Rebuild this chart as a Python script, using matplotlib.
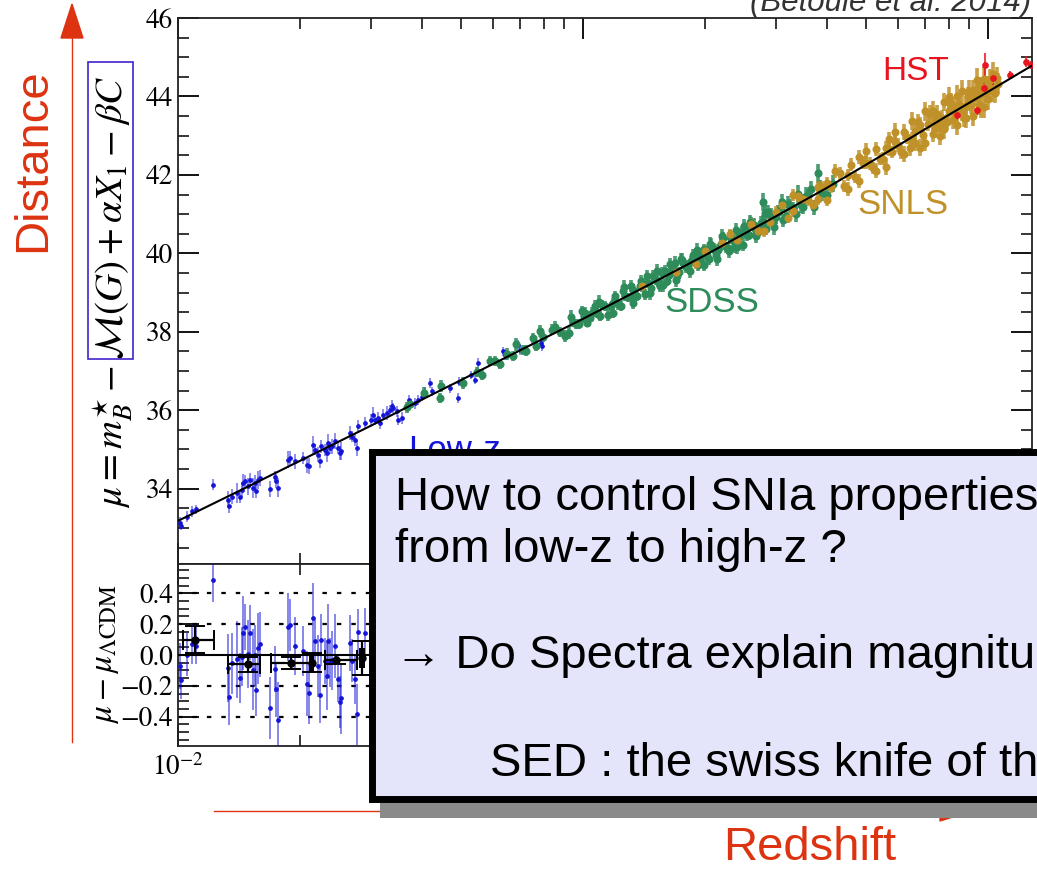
import numpy as np
import matplotlib
matplotlib.use("Agg")
import matplotlib.pyplot as plt
from matplotlib.patches import Rectangle, Polygon
from matplotlib.lines import Line2D
from matplotlib.ticker import MultipleLocator, FuncFormatter

plt.rcParams['font.family'] = 'STIXGeneral'
plt.rcParams['mathtext.fontset'] = 'stix'

W, H = 1037, 869

# Best-fit LambdaCDM distance modulus
model_z = [0.01, 0.015, 0.02, 0.03, 0.04, 0.05, 0.07, 0.1, 0.15, 0.2,
           0.3, 0.4, 0.5, 0.6, 0.7, 0.8, 1.0, 1.3]
model_mu = [33.18, 34.07, 34.71, 35.61, 36.27, 36.77, 37.53, 38.33, 39.27, 39.95,
            40.95, 41.67, 42.26, 42.75, 43.17, 43.53, 44.12, 44.82]

# Low-z sample
lowz_z = [0.0101, 0.0102, 0.0105, 0.0108, 0.0111, 0.0122, 0.0133, 0.0134, 0.0136, 0.0140,
          0.0142, 0.0144, 0.0145, 0.0146, 0.0149, 0.0151, 0.0153, 0.0155, 0.0156, 0.0158,
          0.0159, 0.0169, 0.0174, 0.0175, 0.0177, 0.0187, 0.0189, 0.0194, 0.0204, 0.0208,
          0.0210, 0.0216, 0.0218, 0.0222, 0.0224, 0.0226, 0.0231, 0.0233, 0.0235, 0.0237,
          0.0240, 0.0244, 0.0249, 0.0251, 0.0253, 0.0266, 0.0269, 0.0274, 0.0276, 0.0278,
          0.0289, 0.0300, 0.0303, 0.0307, 0.0312, 0.0315, 0.0321, 0.0328, 0.0334, 0.0337,
          0.0340, 0.0347, 0.0350, 0.0357, 0.0371, 0.0385, 0.0392, 0.0400, 0.0407, 0.0419,
          0.0423, 0.0469, 0.0490, 0.0493, 0.0530, 0.0541, 0.0552, 0.0636, 0.0642, 0.0691,
          0.0700, 0.0789, 0.0794]
lowz_mu = [33.13, 33.06, 33.29, 33.42, 33.47, 34.10, 33.72, 33.55, 33.80, 33.89,
           33.80, 33.97, 34.14, 34.19, 34.06, 34.23, 34.02, 34.14, 33.93, 34.23,
           34.27, 33.99, 34.31, 34.19, 34.02, 34.74, 34.78, 34.70, 34.78, 34.61,
           34.57, 35.12, 34.99, 34.87, 34.70, 35.08, 34.99, 34.91, 35.16, 35.04,
           35.08, 35.21, 35.04, 34.91, 34.95, 35.42, 35.33, 35.25, 35.04, 35.59,
           35.67, 35.76, 35.89, 35.76, 35.80, 35.67, 35.89, 35.93, 36.01, 36.10,
           36.06, 35.97, 35.76, 35.80, 36.27, 36.18, 36.27, 36.35, 36.44, 36.69,
           36.48, 36.56, 36.31, 36.73, 36.90, 36.78, 37.20, 37.50, 37.41, 37.67,
           37.54, 37.71, 37.63]
lowz_err = [0.15, 0.12, 0.14, 0.13, 0.12, 0.14, 0.22, 0.18, 0.20, 0.25,
            0.16, 0.19, 0.24, 0.15, 0.22, 0.18, 0.26, 0.20, 0.17, 0.23,
            0.21, 0.20, 0.15, 0.18, 0.24, 0.22, 0.17, 0.19, 0.16, 0.21,
            0.20, 0.23, 0.14, 0.20, 0.18, 0.17, 0.15, 0.22, 0.24, 0.16,
            0.19, 0.21, 0.15, 0.17, 0.23, 0.18, 0.14, 0.16, 0.20, 0.15,
            0.16, 0.14, 0.18, 0.13, 0.15, 0.16, 0.14, 0.17, 0.13, 0.15,
            0.12, 0.14, 0.13, 0.15, 0.12, 0.14, 0.13, 0.12, 0.14, 0.13,
            0.12, 0.11, 0.13, 0.12, 0.11, 0.12, 0.13, 0.11, 0.12, 0.11,
            0.12, 0.11, 0.12]

# SDSS sample
sdss_z = [0.0367, 0.0374, 0.0443, 0.0447, 0.0546, 0.0563, 0.0589, 0.0623, 0.0648, 0.0672,
          0.0711, 0.0725, 0.0753, 0.0782, 0.0797, 0.0836, 0.0877, 0.0901, 0.0936, 0.0944,
          0.098, 0.101, 0.104, 0.107, 0.110, 0.113, 0.117, 0.120, 0.124, 0.127,
          0.131, 0.134, 0.138, 0.142, 0.145, 0.149, 0.153, 0.157, 0.161, 0.165,
          0.169, 0.173, 0.177, 0.182, 0.187, 0.192, 0.197, 0.202, 0.207, 0.213,
          0.219, 0.225, 0.231, 0.237, 0.243, 0.250, 0.257, 0.264, 0.271, 0.279,
          0.287, 0.295, 0.303, 0.312, 0.321, 0.330, 0.340, 0.350, 0.360, 0.372,
          0.385, 0.400, 0.415, 0.096, 0.0995, 0.1025, 0.1055, 0.1085, 0.1115, 0.115,
          0.1185, 0.122, 0.1255, 0.129, 0.1325, 0.136, 0.140, 0.1435, 0.147, 0.151,
          0.155, 0.159, 0.163, 0.167, 0.171, 0.175, 0.1795, 0.1845, 0.1895, 0.1945,
          0.1995, 0.2045, 0.210, 0.216, 0.222, 0.228, 0.234, 0.240, 0.2465, 0.2535,
          0.2605, 0.2675, 0.275, 0.283, 0.291, 0.299, 0.3075, 0.3165, 0.325, 0.345,
          0.365, 0.39, 0.278, 0.38, 0.0405, 0.0505, 0.0605, 0.0685, 0.0765, 0.0855,
          0.0925, 0.1005, 0.1095, 0.1185, 0.126, 0.133, 0.139, 0.146, 0.152, 0.158,
          0.164, 0.170, 0.176, 0.1835, 0.191, 0.1985, 0.206, 0.214, 0.221, 0.229,
          0.238, 0.248, 0.258, 0.268, 0.282, 0.296, 0.31, 0.335, 0.355]
sdss_mu = [36.08, 36.17, 36.31, 36.61, 36.98, 36.91, 37.26, 37.17, 37.44, 37.39,
           37.54, 37.52, 37.83, 38.02, 37.87, 38.05, 37.99, 37.90, 38.38, 38.25,
           38.19, 38.47, 38.36, 38.65, 38.41, 38.65, 38.65, 38.90, 38.67, 38.92,
           39.17, 38.92, 39.18, 38.96, 39.24, 39.41, 39.26, 39.50, 39.30, 39.52,
           39.76, 39.52, 39.75, 39.69, 39.95, 39.70, 39.98, 39.95, 40.21, 39.97,
           40.23, 40.15, 40.42, 40.16, 40.43, 40.69, 40.48, 40.72, 40.55, 40.81,
           41.05, 40.80, 41.05, 40.84, 41.27, 41.15, 41.51, 41.18, 41.45, 41.18,
           41.67, 41.49, 41.78, 38.19, 38.52, 38.23, 38.49, 38.48, 38.68, 38.43,
           38.73, 38.70, 39.03, 38.88, 39.07, 38.92, 39.16, 39.41, 39.12, 39.33,
           39.17, 39.56, 39.45, 39.61, 39.43, 39.86, 39.64, 39.80, 39.95, 39.80,
           40.10, 39.86, 40.12, 40.08, 40.38, 40.14, 40.33, 40.15, 40.55, 40.48,
           40.75, 40.56, 40.78, 40.62, 40.99, 40.92, 41.19, 40.96, 41.21, 41.22,
           41.64, 41.55, 41.31, 42.04, 36.45, 36.69, 37.25, 37.68, 37.64, 38.13,
           37.98, 38.36, 38.77, 38.49, 39.14, 38.73, 39.29, 38.99, 39.56, 39.20,
           39.73, 39.32, 39.84, 39.55, 40.09, 39.71, 40.24, 39.86, 40.43, 40.05,
           40.60, 40.22, 40.79, 40.45, 41.04, 40.66, 41.30, 41.00, 41.47]
sdss_err = [0.14, 0.12, 0.13, 0.15, 0.12, 0.14, 0.13, 0.12, 0.15, 0.13,
            0.12, 0.14, 0.13, 0.16, 0.12, 0.14, 0.13, 0.15, 0.17, 0.12,
            0.13, 0.15, 0.12, 0.16, 0.14, 0.13, 0.12, 0.15, 0.14, 0.13,
            0.16, 0.13, 0.15, 0.14, 0.12, 0.16, 0.13, 0.15, 0.14, 0.13,
            0.17, 0.14, 0.15, 0.13, 0.16, 0.15, 0.14, 0.13, 0.17, 0.15,
            0.16, 0.14, 0.17, 0.15, 0.16, 0.18, 0.15, 0.17, 0.16, 0.18,
            0.18, 0.16, 0.19, 0.17, 0.18, 0.17, 0.24, 0.18, 0.20, 0.19,
            0.20, 0.19, 0.21, 0.13, 0.14, 0.12, 0.13, 0.14, 0.12, 0.15,
            0.13, 0.14, 0.15, 0.12, 0.14, 0.13, 0.15, 0.16, 0.13, 0.14,
            0.15, 0.14, 0.13, 0.15, 0.16, 0.14, 0.15, 0.13, 0.16, 0.14,
            0.15, 0.16, 0.14, 0.15, 0.17, 0.15, 0.16, 0.17, 0.15, 0.16,
            0.17, 0.16, 0.18, 0.16, 0.17, 0.18, 0.19, 0.17, 0.18, 0.19,
            0.20, 0.21, 0.22, 0.24, 0.14, 0.15, 0.13, 0.16, 0.14, 0.15,
            0.17, 0.14, 0.16, 0.15, 0.17, 0.16, 0.15, 0.17, 0.16, 0.18,
            0.15, 0.17, 0.16, 0.18, 0.17, 0.16, 0.18, 0.17, 0.19, 0.16,
            0.18, 0.17, 0.19, 0.18, 0.20, 0.19, 0.21, 0.20, 0.22]

# SNLS sample
snls_z = [0.14, 0.17, 0.19, 0.20, 0.22, 0.24, 0.26, 0.27, 0.29, 0.31,
          0.32, 0.33, 0.34, 0.35, 0.37, 0.38, 0.39, 0.41, 0.42, 0.43,
          0.44, 0.45, 0.46, 0.47, 0.48, 0.49, 0.51, 0.52, 0.53, 0.55,
          0.56, 0.57, 0.58, 0.59, 0.61, 0.62, 0.63, 0.64, 0.65, 0.66,
          0.67, 0.69, 0.70, 0.71, 0.72, 0.73, 0.74, 0.75, 0.76, 0.77,
          0.78, 0.79, 0.80, 0.81, 0.83, 0.84, 0.85, 0.86, 0.87, 0.88,
          0.89, 0.90, 0.91, 0.92, 0.93, 0.94, 0.95, 0.96, 0.97, 0.99,
          1.00, 1.01, 1.04, 1.06, 0.50, 0.54, 0.60, 0.68, 0.82, 0.98,
          1.02, 0.36, 0.40, 0.23, 0.28, 0.33, 0.40, 0.45, 0.50, 0.53,
          0.56, 0.59, 0.62, 0.65, 0.68, 0.70, 0.73, 0.76, 0.78, 0.80,
          0.82, 0.84, 0.86, 0.88, 0.90, 0.92, 0.94, 0.96, 0.98, 1.00,
          1.03, 1.05, 0.74, 0.66, 0.57, 0.48, 0.38, 0.30]
snls_mu = [39.16, 39.52, 39.73, 40.07, 40.26, 40.35, 40.74, 40.58, 40.81, 41.23,
           40.91, 41.07, 41.46, 41.38, 41.22, 41.69, 41.70, 41.68, 42.10, 42.04,
           41.72, 42.00, 42.26, 41.94, 41.85, 42.31, 42.29, 42.18, 42.66, 42.41,
           42.68, 42.66, 42.58, 42.85, 42.59, 43.09, 42.96, 42.68, 42.92, 43.13,
           43.35, 43.01, 42.82, 43.31, 43.55, 43.04, 43.37, 43.56, 43.29, 43.45,
           43.86, 43.35, 43.63, 43.84, 43.58, 44.02, 43.82, 43.58, 43.46, 43.79,
           44.00, 44.15, 43.78, 44.16, 43.99, 44.09, 43.78, 43.73, 44.21, 44.09,
           44.24, 44.41, 44.08, 44.33, 42.31, 42.41, 42.77, 43.27, 43.40, 44.44,
           44.13, 41.35, 41.79, 40.49, 40.57, 41.49, 41.37, 41.63, 42.61, 42.11,
           42.21, 43.10, 42.54, 43.37, 42.69, 43.62, 43.64, 42.99, 43.16, 43.98,
           43.75, 43.27, 44.13, 43.44, 43.90, 43.51, 44.42, 44.23, 43.74, 43.94,
           44.56, 44.46, 43.17, 42.81, 42.91, 42.45, 41.39, 41.05]
snls_err = [0.12, 0.13, 0.12, 0.14, 0.13, 0.14, 0.15, 0.13, 0.14, 0.15,
            0.14, 0.15, 0.16, 0.14, 0.15, 0.16, 0.15, 0.14, 0.17, 0.16,
            0.15, 0.16, 0.17, 0.15, 0.18, 0.16, 0.17, 0.16, 0.18, 0.17,
            0.18, 0.17, 0.16, 0.19, 0.18, 0.20, 0.17, 0.19, 0.18, 0.20,
            0.21, 0.19, 0.22, 0.20, 0.23, 0.21, 0.19, 0.22, 0.20, 0.21,
            0.24, 0.20, 0.22, 0.25, 0.21, 0.26, 0.22, 0.20, 0.24, 0.23,
            0.25, 0.27, 0.22, 0.26, 0.24, 0.23, 0.25, 0.27, 0.24, 0.26,
            0.28, 0.30, 0.25, 0.28, 0.17, 0.16, 0.18, 0.20, 0.22, 0.30,
            0.26, 0.15, 0.16, 0.14, 0.15, 0.16, 0.17, 0.18, 0.20, 0.19,
            0.21, 0.22, 0.20, 0.23, 0.22, 0.25, 0.24, 0.23, 0.25, 0.27,
            0.24, 0.26, 0.28, 0.25, 0.27, 0.26, 0.30, 0.27, 0.28, 0.29,
            0.31, 0.30, 0.22, 0.21, 0.19, 0.18, 0.16, 0.15]

# HST sample
hst_z = [0.84, 0.94, 0.98, 0.985, 1.03, 1.13, 1.24, 1.28]
hst_mu = [43.53, 43.66, 44.21, 44.80, 44.46, 44.55, 44.89, 44.80]
hst_err = [0.12, 0.13, 0.15, 0.30, 0.16, 0.10, 0.15, 0.10]

# Binned residuals
bin_z = [0.0110, 0.0149, 0.0190, 0.0214, 0.0245, 0.0285]
bin_res = [0.10, -0.06, -0.05, -0.05, -0.03, -0.02]
bin_zlo = [0.0103, 0.0133, 0.0170, 0.0212, 0.0231, 0.0282]
bin_zhi = [0.0123, 0.0159, 0.0214, 0.0216, 0.0277, 0.0288]
bin_err = [0.09, 0.05, 0.04, 0.06, 0.03, 0.11]

C_LOWZ = '#1414d8'
C_SDSS = '#2e8b5a'
C_SNLS = '#bf9128'
C_HST = '#e8141e'
C_RED = '#dd3311'


def fx(x):
    return x / W


def fy(y):
    return 1 - y / H


def mu_model(z):
    return np.interp(np.log10(z), np.log10(model_z), model_mu)


fig = plt.figure(figsize=(W / 100, H / 100), dpi=100)
ax = fig.add_axes([fx(178), fy(564), fx(1032) - fx(178), fy(18) - fy(564)])
axr = fig.add_axes([fx(178), fy(746), fx(1032) - fx(178), fy(564) - fy(746)], sharex=ax)

samples = [
    (lowz_z, lowz_mu, lowz_err, C_LOWZ, 2.4, 1.1, 0.6),
    (sdss_z, sdss_mu, sdss_err, C_SDSS, 4.8, 2.6, 0.85),
    (snls_z, snls_mu, snls_err, C_SNLS, 4.8, 2.6, 0.85),
    (hst_z, hst_mu, hst_err, C_HST, 3.8, 1.5, 0.8),
]

for z, mu, err, col, ms, elw, ea in samples:
    z = np.asarray(z)
    mu = np.asarray(mu)
    err = np.asarray(err)
    eb = ax.errorbar(z, mu, yerr=err, fmt='o', ms=ms, color=col, mec=col,
                     elinewidth=elw, capsize=0, zorder=3)
    eb[2][0].set_alpha(ea)
    res = mu - mu_model(z)
    ebr = axr.errorbar(z, res, yerr=err, fmt='o', ms=ms, color=col, mec=col,
                       elinewidth=1.2 if col == C_LOWZ else elw, capsize=0, zorder=3)
    ebr[2][0].set_alpha(0.6)

ax.plot(model_z, model_mu, color='black', lw=1.5, zorder=4)

bz = np.asarray(bin_z)
xerr = [bz - np.asarray(bin_zlo), np.asarray(bin_zhi) - bz]
axr.errorbar(bz, bin_res, xerr=xerr, yerr=bin_err, fmt='o', ms=5, color='black',
             elinewidth=1.6, capsize=7, capthick=1.4, zorder=5)

axr.axhline(0, color='black', lw=1.5, zorder=4)
for yv in (-0.4, -0.2, 0.2, 0.4):
    axr.axhline(yv, color='black', lw=1.6, linestyle=(0, (2, 4.5)), zorder=1)

ax.set_xscale('log')
ax.set_xlim(0.01, 1.284)
ax.set_ylim(32.08, 46.0)
axr.set_ylim(-0.59, 0.59)

ax.yaxis.set_major_locator(MultipleLocator(2))
ax.yaxis.set_minor_locator(MultipleLocator(0.5))
axr.yaxis.set_major_locator(MultipleLocator(0.2))
axr.yaxis.set_minor_locator(MultipleLocator(0.05))
# only the first decade label is left uncovered by the note box
axr.xaxis.set_major_formatter(FuncFormatter(
    lambda v, p: r'$10^{-2}$' if abs(v - 0.01) < 1e-6 else ''))

for a in (ax, axr):
    a.tick_params(which='both', direction='in', top=True, right=True,
                  labelsize=19.5, colors='black')
    a.tick_params(which='major', length=15, width=1.3)
    a.tick_params(which='minor', length=8, width=1.1)
    for s in a.spines.values():
        s.set_linewidth(1.3)
        s.set_color('#222222')
ax.tick_params(labelbottom=False)
axr.tick_params(axis='x', pad=6)

# axis labels
fig.text(fx(113), fy(292),
         r'$\mu = m_B^{\star} - \mathcal{M}(G) + \alpha X_1 - \beta C$',
         rotation=90, ha='center', va='center', fontsize=28)
fig.add_artist(Rectangle((fx(88), fy(359)), fx(133) - fx(88), fy(62) - fy(359),
                         transform=fig.transFigure, fill=False,
                         edgecolor='#4422cc', lw=1.2, zorder=6))
fig.text(fx(106), fy(654), r'$\mu - \mu_{\Lambda\mathrm{CDM}}$',
         rotation=90, ha='center', va='center', fontsize=24)

# sample names
sans = ['Liberation Sans', 'DejaVu Sans']
fig.text(fx(882), fy(80), 'HST', color=C_HST, fontsize=24, family=sans,
         va='baseline', zorder=2)
fig.text(fx(857), fy(214), 'SNLS', color=C_SNLS, fontsize=25, family=sans,
         va='baseline', zorder=2)
fig.text(fx(664), fy(312), 'SDSS', color=C_SDSS, fontsize=25, family=sans,
         va='baseline', zorder=2)
fig.text(fx(408), fy(460), 'Low-z', color=C_LOWZ, fontsize=25, family=sans,
         va='baseline', zorder=2)

fig.text(fx(1031), fy(11), '(Betoule et al. 2014)', color='#333333', fontsize=22.5,
         family=sans, style='italic', ha='right', va='baseline', zorder=2)

# red axis arrows
fig.add_artist(Line2D([fx(72), fx(72)], [fy(742), fy(34)], transform=fig.transFigure,
                      color=C_RED, lw=1.0, zorder=2))
fig.add_artist(Polygon([[fx(72), fy(4)], [fx(61), fy(38)], [fx(83), fy(38)]],
                       closed=True, transform=fig.transFigure, color=C_RED, zorder=2))
fig.add_artist(Line2D([fx(214), fx(945)], [fy(811), fy(811)], transform=fig.transFigure,
                      color=C_RED, lw=1.0, zorder=2))
fig.add_artist(Polygon([[fx(940), fy(801)], [fx(940), fy(821)], [fx(972), fy(811)]],
                       closed=True, transform=fig.transFigure, color=C_RED, zorder=2))
fig.text(fx(33), fy(160), 'Distance', color=C_RED, fontsize=34, family=sans,
         rotation=90, ha='center', va='center', zorder=2)
fig.text(fx(810), fy(860), 'Redshift', color=C_RED, fontsize=34, family=sans,
         ha='center', va='baseline', zorder=2)

# overlay note box with shadow
fig.add_artist(Rectangle((fx(380), fy(818)), fx(1080) - fx(380), fy(460) - fy(818),
                         transform=fig.transFigure, facecolor='#8a8a8a',
                         edgecolor='none', zorder=7))
fig.add_artist(Rectangle((fx(371.5), fy(798.5)), fx(1080) - fx(371.5),
                         fy(451.5) - fy(798.5), transform=fig.transFigure,
                         facecolor='#e4e4fa', edgecolor='black', lw=5, zorder=8))
note_kw = dict(color='black', fontsize=34, family=sans, va='baseline', zorder=9)
fig.text(fx(395), fy(510), 'How to control SNIa properties', **note_kw)
fig.text(fx(395), fy(562), 'from low-z to high-z ?', **note_kw)
fig.text(fx(395), fy(668), '\u2192 Do Spectra explain magnitudes ?', **note_kw)
fig.text(fx(490), fy(776), 'SED : the swiss knife of the analysis', **note_kw)

fig.savefig('out.png', dpi=100)
